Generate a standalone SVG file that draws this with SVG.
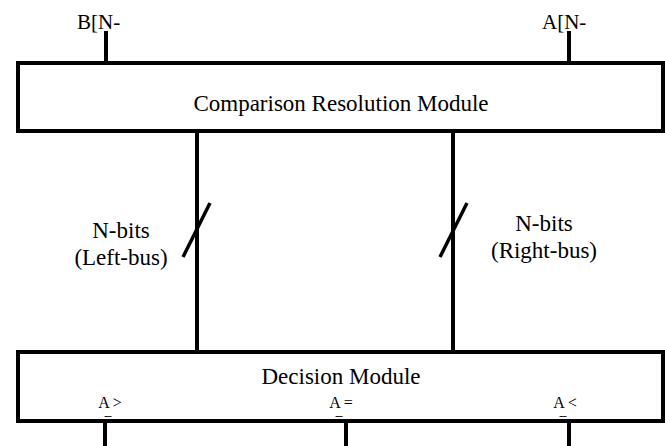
<svg xmlns="http://www.w3.org/2000/svg" width="665" height="446" viewBox="0 0 665 446">
<style>
.box{fill:#fff;stroke:#000;stroke-width:4}
.wire{stroke:#000;stroke-width:4;fill:none}
.slash{stroke:#000;stroke-width:3.5;fill:none}
.t{font-family:"Liberation Serif","Times New Roman",serif;fill:#000}
.big{font-size:23px}
.sm{font-size:16px}
</style>
<defs>
<clipPath id="clipDec"><rect x="18" y="352" width="645" height="65"/></clipPath>
</defs>
<g id="connectors">
<line class="wire" x1="106" y1="31" x2="106" y2="63"/>
<line class="wire" x1="569" y1="31" x2="569" y2="63"/>
<line class="wire" x1="197" y1="131" x2="197" y2="352"/>
<line class="wire" x1="453" y1="131" x2="453" y2="352"/>
<line class="slash" x1="183" y1="257" x2="210" y2="203"/>
<line class="slash" x1="440" y1="257" x2="467" y2="203"/>
<line class="wire" x1="105" y1="421" x2="105" y2="446"/>
<line class="wire" x1="346" y1="421" x2="346" y2="446"/>
<line class="wire" x1="569" y1="421" x2="569" y2="446"/>
</g>
<g id="inputB"><text class="t" x="77" y="29" font-size="21">B[N-</text></g>
<g id="inputA"><text class="t" x="542" y="29" font-size="21">A[N-</text></g>
<g id="comparison">
<rect class="box" x="18" y="63" width="645" height="68"/>
<text class="t big" x="341" y="111" text-anchor="middle">Comparison Resolution Module</text>
</g>
<g id="leftbus-label">
<text class="t big" x="121" y="238" text-anchor="middle">N-bits</text>
<text class="t big" x="121" y="265" text-anchor="middle">(Left-bus)</text>
</g>
<g id="rightbus-label">
<text class="t big" x="544" y="231" text-anchor="middle">N-bits</text>
<text class="t big" x="544" y="258" text-anchor="middle">(Right-bus)</text>
</g>
<g id="decision">
<rect class="box" x="18" y="352" width="645" height="69"/>
<text class="t big" x="341" y="384" text-anchor="middle">Decision Module</text>
<g clip-path="url(#clipDec)">
<text class="t sm" x="110" y="408" text-anchor="middle">A &gt;</text>
<text class="t sm" x="109" y="427" text-anchor="middle">B</text>
<text class="t sm" x="341" y="408" text-anchor="middle">A =</text>
<text class="t sm" x="340" y="427" text-anchor="middle">B</text>
<text class="t sm" x="565" y="408" text-anchor="middle">A &lt;</text>
<text class="t sm" x="564" y="427" text-anchor="middle">B</text>
</g>
</g>
</svg>
